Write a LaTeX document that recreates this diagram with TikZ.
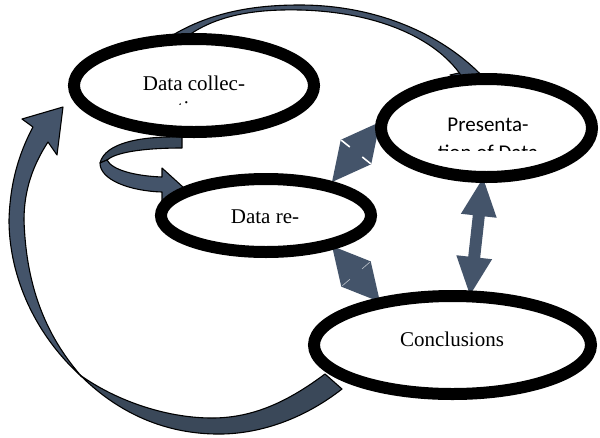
\documentclass[tikz,border=0pt]{standalone}
\usepackage{fontspec}
\setmainfont{Liberation Serif}
\newfontfamily\calib{Carlito}
\usetikzlibrary{shapes.geometric,calc}
\definecolor{af}{HTML}{44546A}
\definecolor{afd}{HTML}{3A4859}
\newcommand{\dblarrow}[5]{%
  \fill[af] (#1) -- ($(#1)!#3!(#2)!#4!90:(#2)$) -- ($(#1)!#3!(#2)!#5!90:(#2)$)
    -- ($(#2)!#3!(#1)!#5!-90:(#1)$) -- ($(#2)!#3!(#1)!#4!-90:(#1)$) -- (#2)
    -- ($(#2)!#3!(#1)!#4!90:(#1)$) -- ($(#2)!#3!(#1)!#5!90:(#1)$)
    -- ($(#1)!#3!(#2)!#5!-90:(#2)$) -- ($(#1)!#3!(#2)!#4!-90:(#2)$) -- cycle;}
\begin{document}
\begin{tikzpicture}[x=1pt,y=-1pt,
  ell/.style={ellipse,draw=black,fill=white,line width=12pt,inner sep=0pt},
  lbl/.style={anchor=base,inner sep=0pt,font=\fontsize{21}{25}\selectfont},
  band/.style={fill=af,draw=black,line width=1.1pt,line join=round},
  bandd/.style={fill=afd,draw=black,line width=1.1pt,line join=round}]
\fill[white] (0,0) rectangle (600,437);
\useasboundingbox (0,0) rectangle (600,437);

% top curved arrow (Data collection -> Presentation)
\path[band] (450,75) -- (468,71) -- (471,82) -- cycle;
\path[band] (165,40) .. controls (210,10) and (260,5) .. (300,5)
  .. controls (370,5) and (440,30) .. (486,80) -- (464,80)
  .. controls (440,40) and (380,12) .. (300,10)
  .. controls (255,9) and (215,15) .. (185,38) -- cycle;

% big left curved arrow (Conclusions -> Data collection)
\path[bandd] (80,375) .. controls (115,410) and (160,433) .. (215,434)
  .. controls (260,435) and (305,418) .. (342,389) -- (325,374)
  .. controls (290,400) and (255,418) .. (212,418)
  .. controls (165,418) and (115,400) .. (80,375) -- cycle;
\path[band] (48,142) .. controls (33,165) and (24,190) .. (24,220)
  .. controls (26,285) and (45,335) .. (82,377)
  .. controls (30,330) and (9,270) .. (9,220)
  .. controls (10,185) and (18,155) .. (33,127)
  -- (22,119) -- (63,107) -- (57,155) -- cycle;

% small curved arrow (Data collection -> Data reduction)
\path[bandd] (182,137) .. controls (140,136) and (105,143) .. (100,163)
  -- (107,160) .. controls (115,153) and (140,148) .. (182,148) -- cycle;
\path[band] (100,163) .. controls (100,180) and (130,191) .. (162,192)
  -- (162,203) -- (184,188) -- (162,168) -- (162,177)
  .. controls (135,176) and (112,170) .. (107,160) -- cycle;

% double arrows
\coordinate (v1) at (483,178); \coordinate (v2) at (470,295);
\coordinate (u1) at (380,122); \coordinate (u2) at (332,182);
\coordinate (l1) at (332,246); \coordinate (l2) at (380,302);
\dblarrow{v1}{v2}{38pt}{18pt}{6pt}
\dblarrow{u1}{u2}{38.4pt}{19.5pt}{8pt}
\dblarrow{l1}{l2}{36.9pt}{19.4pt}{8pt}
\draw[white,line width=1.6pt] ($(u1)!38.4pt!(u2)!19pt!90:(u2)$) -- ($(u1)!38.4pt!(u2)!8pt!90:(u2)$);
\draw[white,line width=1.6pt] ($(u1)!38.4pt!(u2)!19pt!-90:(u2)$) -- ($(u1)!38.4pt!(u2)!8pt!-90:(u2)$);
\draw[white,opacity=0.6,line width=0.7pt] ($(l1)!36.9pt!(l2)!18pt!90:(l2)$) -- ($(l1)!36.9pt!(l2)!8pt!90:(l2)$);
\draw[white,opacity=0.6,line width=0.7pt] ($(l1)!36.9pt!(l2)!18pt!-90:(l2)$) -- ($(l1)!36.9pt!(l2)!8pt!-90:(l2)$);

% ellipses
\node[ell,minimum width=240pt,minimum height=93pt] (dc) at (194,85.5) {};
\node[ell,minimum width=211pt,minimum height=98pt] (pr) at (486.5,128) {};
\node[ell,minimum width=210pt,minimum height=73pt] (dr) at (266,215.5) {};
\node[ell,minimum width=277pt,minimum height=98pt] (co) at (452.5,345) {};

% labels
\node[lbl] (t1) at (194,90) {Data collec-};
\begin{scope}
\clip (0,0) rectangle (600,104);
\node[lbl] (t1b) at (194,115) {tion};
\end{scope}
\node[lbl,font=\calib\fontsize{21}{25}\selectfont] (t2) at (488,131) {Presenta-};
\begin{scope}
\clip (0,0) rectangle (600,150);
\node[lbl,font=\calib\fontsize{21}{25}\selectfont] (t2b) at (488,159.5) {tion of Data};
\end{scope}
\node[lbl] (t3) at (265,223) {Data re-};
\node[lbl] (t4) at (452,346) {Conclusions};
\end{tikzpicture}
\end{document}
